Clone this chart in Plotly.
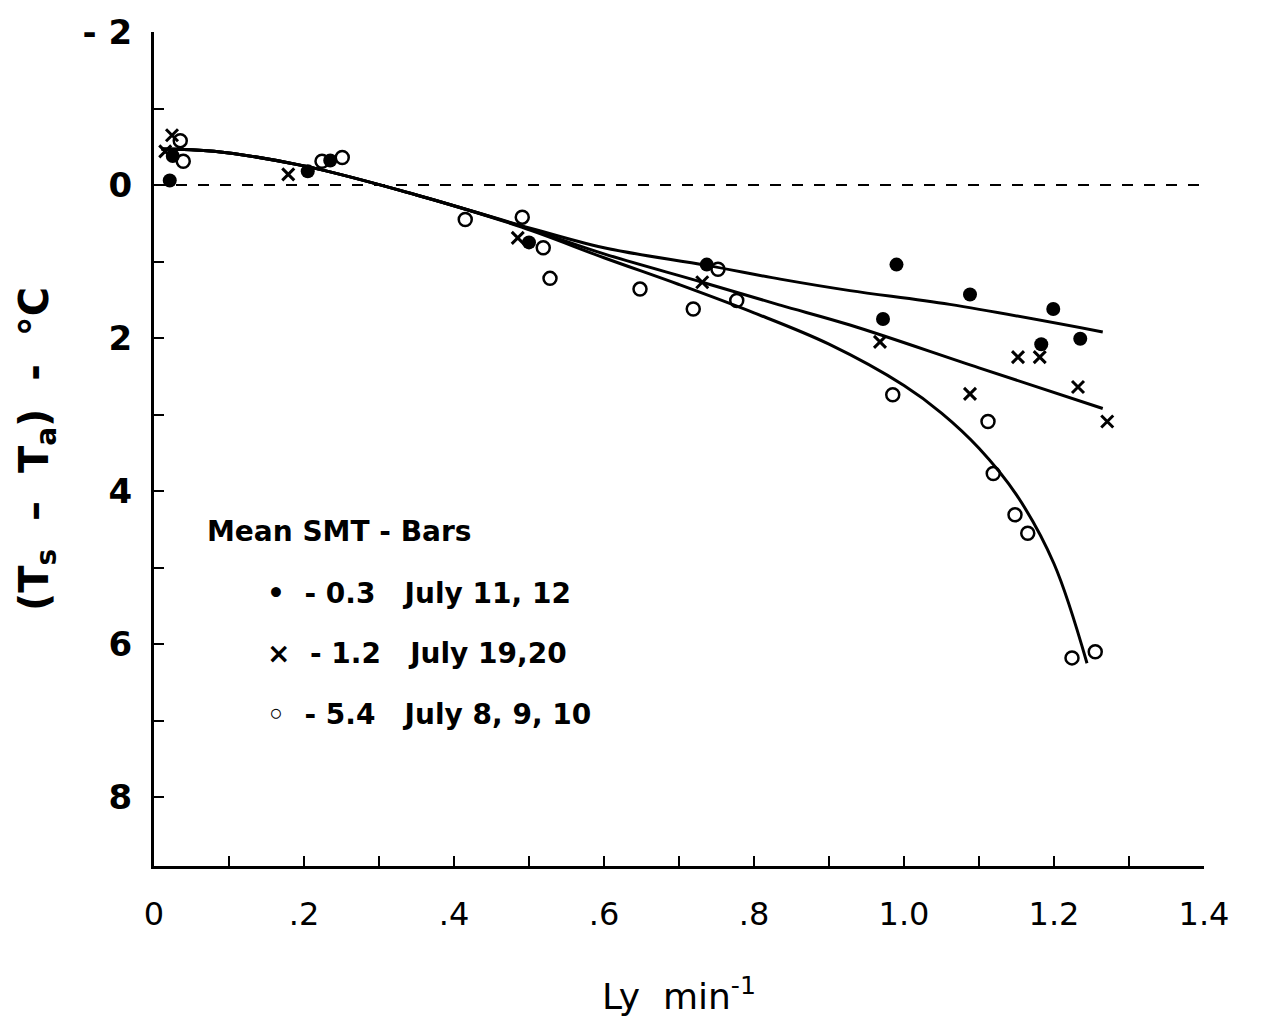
import plotly.graph_objects as go

# ---- data ----
dot_x = [0.021, 0.025, 0.205, 0.235, 0.50, 0.737, 0.972, 0.99, 1.088, 1.183, 1.199, 1.235]
dot_y = [-0.06, -0.38, -0.18, -0.32, 0.75, 1.04, 1.75, 1.04, 1.43, 2.08, 1.62, 2.01]

x_x = [0.015, 0.024, 0.179, 0.485, 0.731, 0.968, 1.088, 1.152, 1.181, 1.232, 1.271]
x_y = [-0.44, -0.65, -0.14, 0.69, 1.27, 2.05, 2.73, 2.25, 2.25, 2.64, 3.09]

o_x = [0.035, 0.039, 0.224, 0.251, 0.415, 0.491, 0.519, 0.528, 0.648, 0.719, 0.752,
       0.777, 0.985, 1.112, 1.119, 1.148, 1.165, 1.224, 1.255]
o_y = [-0.58, -0.31, -0.31, -0.36, 0.45, 0.42, 0.82, 1.22, 1.36, 1.62, 1.10,
       1.51, 2.74, 3.09, 3.77, 4.31, 4.55, 6.18, 6.10]

# fitted curves
fit_dot_x = [0.01, 0.08, 0.20, 0.35, 0.49, 0.60, 0.737, 0.835, 0.928, 1.061, 1.265]
fit_dot_y = [-0.47, -0.44, -0.25, 0.13, 0.53, 0.82, 1.05, 1.23, 1.38, 1.56, 1.92]

fit_x_x = [0.01, 0.08, 0.20, 0.35, 0.49, 0.60, 0.731, 0.835, 0.928, 1.10, 1.265]
fit_x_y = [-0.47, -0.44, -0.25, 0.13, 0.54, 0.90, 1.27, 1.57, 1.83, 2.39, 2.92]

fit_o_x = [0.01, 0.08, 0.20, 0.35, 0.49, 0.60, 0.70, 0.80, 0.90, 1.00, 1.05, 1.10, 1.15, 1.20, 1.244]
fit_o_y = [-0.47, -0.44, -0.25, 0.13, 0.55, 0.95, 1.30, 1.67, 2.08, 2.62, 2.98, 3.44, 4.05, 4.95, 6.25]

y_tickvals = [-2, 0, 2, 4, 6, 8]
y_ticktext = ["- 2", "0", "2", "4", "6", "8"]
y_minor = [-1, 1, 3, 5, 7]
x_tickvals = [0, 0.2, 0.4, 0.6, 0.8, 1.0, 1.2, 1.4]
x_ticktext = ["0", ".2", ".4", ".6", ".8", "1.0", "1.2", "1.4"]
x_minor = [0.1, 0.3, 0.5, 0.7, 0.9, 1.1, 1.3]

legend_title = "Mean SMT - Bars"
legend_rows = ["\u2022  - 0.3   July 11, 12", "\u00d7  - 1.2   July 19,20", "\u25e6  - 5.4   July 8, 9, 10"]

FONT = "DejaVu Sans"
fig = go.Figure()

for fx, fy in [(fit_dot_x, fit_dot_y), (fit_x_x, fit_x_y), (fit_o_x, fit_o_y)]:
    fig.add_trace(go.Scatter(x=fx, y=fy, mode="lines", line=dict(color="black", width=3, shape="spline", smoothing=1.0),
                             showlegend=False, hoverinfo="skip"))

fig.add_trace(go.Scatter(x=dot_x, y=dot_y, mode="markers",
                         marker=dict(symbol="circle", size=14, color="black"), showlegend=False))
fig.add_trace(go.Scatter(x=x_x, y=x_y, mode="markers",
                         marker=dict(symbol="x-thin-open", size=12, color="black", line=dict(color="black", width=3)),
                         showlegend=False))
fig.add_trace(go.Scatter(x=o_x, y=o_y, mode="markers",
                         marker=dict(symbol="circle-open", size=13, color="black", line=dict(color="black", width=2.5)),
                         showlegend=False))

fig.add_hline(y=0, line=dict(color="black", width=2, dash="11px,11px"), layer="below")

fig.add_annotation(xref="paper", yref="paper", x=(205 - 154) / 1050, y=(866 - 527) / 844, text=legend_title,
                   showarrow=False, xanchor="left", yanchor="middle",
                   font=dict(family=FONT, size=28, color="black", weight="bold"))
for row, py in zip(legend_rows, [590, 651, 713]):
    fig.add_annotation(xref="paper", yref="paper", x=(265 - 154) / 1050, y=(866 - py) / 844, text=row,
                       showarrow=False, xanchor="left", yanchor="middle",
                       font=dict(family=FONT, size=28, color="black", weight="bold"))

fig.update_layout(
    width=1261, height=1031,
    margin=dict(l=154, r=57, t=22, b=165),
    paper_bgcolor="white", plot_bgcolor="white",
    showlegend=False,
    font=dict(family=FONT, color="black"),
)
fig.update_xaxes(range=[0, 1.4], showgrid=False, zeroline=False, showline=True, linecolor="black", linewidth=3,
                 tickvals=x_tickvals, ticktext=x_ticktext, ticks="inside", ticklen=10, tickwidth=2, tickcolor="black",
                 tickfont=dict(family=FONT, size=32, color="black"), ticklabelstandoff=18,
                 minor=dict(tickvals=x_minor, ticks="inside", ticklen=10, tickwidth=2, tickcolor="black"),
                 title=dict(text="Ly  min<sup>-1</sup>", font=dict(family=FONT, size=36, color="black"), standoff=52))
fig.update_yaxes(range=[8.9, -2], showgrid=False, zeroline=False, showline=True, linecolor="black", linewidth=3,
                 tickvals=y_tickvals, ticktext=y_ticktext, ticks="inside", ticklen=10, tickwidth=2, tickcolor="black",
                 tickfont=dict(family=FONT, size=34, color="black", weight="bold"), ticklabelstandoff=12,
                 minor=dict(tickvals=y_minor, ticks="inside", ticklen=10, tickwidth=2, tickcolor="black"),
                 title=dict(text="(T<sub>s</sub>  \u2013  T<sub>a</sub>)  -  \u00b0C",
                            font=dict(family=FONT, size=40, color="black", weight="bold"), standoff=22))

fig.write_html("out.html")
